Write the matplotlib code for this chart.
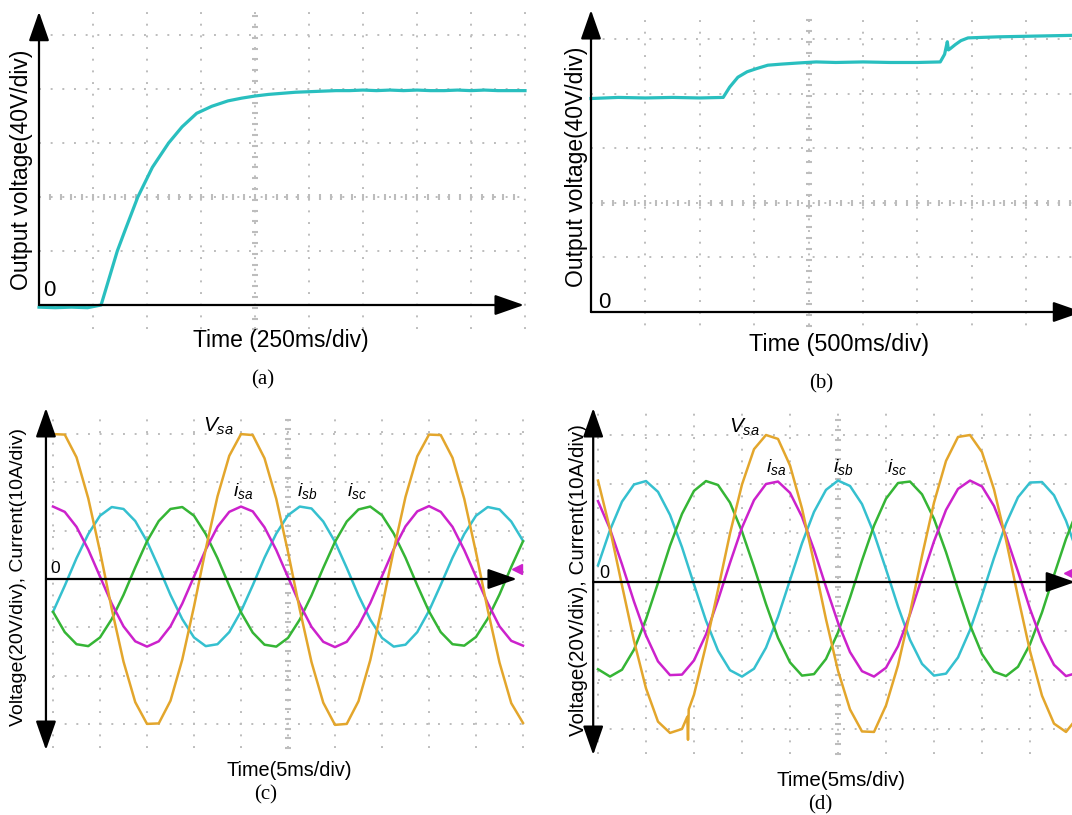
import numpy as np
import matplotlib
matplotlib.use("Agg")
import matplotlib.pyplot as plt

# ---- data (divisions read off the scope screens) ----
# (a) start-up of the output voltage, 250 ms/div, 40 V/div
t_a = [0.0, 0.3, 0.6, 0.9, 1.15, 1.3, 1.45, 1.6, 1.83, 2.1, 2.4, 2.65, 2.92, 3.2, 3.5,
       3.75, 4.0, 4.25, 4.5, 4.75, 5.0, 5.25, 5.5, 5.75, 6.0, 6.25, 6.5, 6.75, 7.0,
       7.25, 7.5, 7.75, 8.0, 8.25, 8.5, 8.75, 9.0]
v_a = [-0.04, -0.05, -0.04, -0.05, 0.0, 0.5, 1.0, 1.4, 2.0, 2.55, 3.0, 3.3, 3.55, 3.68, 3.78,
       3.83, 3.87, 3.9, 3.92, 3.94, 3.95, 3.96, 3.97, 3.97, 3.98, 3.97, 3.98, 3.97, 3.98,
       3.97, 3.97, 3.98, 3.97, 3.98, 3.97, 3.97, 3.97]

# (b) reference steps, 500 ms/div, 40 V/div
t_b = [0.0, 0.5, 1.0, 1.5, 2.0, 2.43, 2.55, 2.7, 2.87, 3.05, 3.25, 3.5, 3.8, 4.14, 4.5, 5.0,
       5.5, 6.0, 6.42, 6.5, 6.55, 6.57, 6.6, 6.7, 6.8, 6.93, 7.2, 7.5, 8.0, 8.5, 9.0]
v_b = [3.91, 3.93, 3.92, 3.93, 3.92, 3.93, 4.12, 4.3, 4.4, 4.46, 4.52, 4.54, 4.56, 4.58, 4.57, 4.58,
       4.57, 4.57, 4.58, 4.72, 4.95, 4.8, 4.82, 4.9, 4.97, 5.02, 5.03, 5.04, 5.05, 5.06, 5.07]

# (c) grid voltage and currents, 5 ms/div
t_c = [0.0, 0.25, 0.5, 0.75, 1.0, 1.25, 1.5, 1.75, 2.0, 2.25, 2.5, 2.75, 3.0, 3.25, 3.5, 3.75,
       4.0, 4.25, 4.5, 4.75, 5.0, 5.25, 5.5, 5.75, 6.0, 6.25, 6.5, 6.75, 7.0, 7.25, 7.5, 7.75,
       8.0, 8.25, 8.5, 8.75, 9.0, 9.25, 9.5, 9.75, 10.0]
vsa_c = [3.0, 2.99, 2.52, 1.67, 0.57, -0.62, -1.71, -2.55, -3.0, -2.99, -2.52, -1.67, -0.57, 0.62, 1.71, 2.55,
         3.0, 2.98, 2.5, 1.66, 0.56, -0.63, -1.72, -2.56, -3.02, -3.0, -2.53, -1.68, -0.58, 0.6, 1.7, 2.54,
         2.99, 2.98, 2.51, 1.66, 0.55, -0.64, -1.73, -2.57, -2.98]
isa_c = [1.5, 1.39, 1.08, 0.61, 0.05, -0.51, -0.98, -1.29, -1.4, -1.29, -0.98, -0.51, 0.05, 0.61, 1.08, 1.39,
         1.5, 1.4, 1.07, 0.6, 0.04, -0.52, -0.99, -1.3, -1.41, -1.3, -0.97, -0.5, 0.06, 0.62, 1.09, 1.4,
         1.51, 1.39, 1.08, 0.6, 0.05, -0.5, -0.98, -1.28, -1.38]
isb_c = [-0.68, -0.14, 0.43, 0.93, 1.31, 1.49, 1.45, 1.2, 0.78, 0.24, -0.33, -0.83, -1.21, -1.39, -1.35, -1.1,
         -0.67, -0.13, 0.44, 0.94, 1.32, 1.5, 1.46, 1.19, 0.77, 0.23, -0.34, -0.84, -1.22, -1.4, -1.36, -1.1,
         -0.66, -0.12, 0.44, 0.93, 1.31, 1.49, 1.44, 1.19, 0.79]
isc_c = [-0.68, -1.1, -1.35, -1.39, -1.21, -0.83, -0.33, 0.24, 0.78, 1.2, 1.45, 1.49, 1.31, 0.93, 0.43, -0.14,
         -0.69, -1.11, -1.36, -1.4, -1.22, -0.84, -0.34, 0.23, 0.77, 1.19, 1.44, 1.5, 1.32, 0.94, 0.44, -0.13,
         -0.67, -1.1, -1.35, -1.38, -1.2, -0.82, -0.32, 0.25, 0.78]
ref_c = (9.87, 0.21)   # channel reference marker of isa

# (d) grid voltage and currents after the step, 5 ms/div
t_d = t_c
t_vsa_d = [0.0, 0.25, 0.5, 0.75, 1.0, 1.25, 1.5, 1.75, 1.86, 1.875, 1.89,
           2.0, 2.25, 2.5, 2.75, 3.0, 3.25, 3.5, 3.75, 4.0, 4.25, 4.5, 4.75, 5.0, 5.25, 5.5, 5.75,
           6.0, 6.25, 6.5, 6.75, 7.0, 7.25, 7.5, 7.75, 8.0, 8.25, 8.5, 8.75, 9.0, 9.25, 9.5, 9.75, 10.0]
vsa_d = [2.07, 1.08, -0.07, -1.2, -2.17, -2.85, -3.08, -3.0, -2.75, -3.22, -2.6,
         -2.3, -1.29, -0.16, 0.99, 1.99, 2.71, 3.0, 2.92, 2.38, 1.5, 0.4, -0.76, -1.81, -2.6, -3.05, -3.06,
         -2.52, -1.7, -0.63, 0.53, 1.62, 2.47, 2.96, 3.0, 2.65, 1.89, 0.86, -0.3, -1.41, -2.32, -2.89, -3.06, -2.75]
isa_d = [1.65, 1.08, 0.36, -0.4, -1.09, -1.62, -1.9, -1.89, -1.6, -1.07, -0.37, 0.39, 1.11, 1.67, 2.0, 2.05,
         1.82, 1.33, 0.66, -0.1, -0.83, -1.43, -1.82, -1.93, -1.75, -1.31, -0.66, 0.09, 0.83, 1.47, 1.9, 2.07,
         1.95, 1.55, 0.94, 0.21, -0.55, -1.21, -1.69, -1.92, -1.85]
isb_d = [0.34, 1.06, 1.64, 1.99, 2.06, 1.84, 1.37, 0.71, -0.05, -0.79, -1.4, -1.8, -1.93, -1.77, -1.34, -0.71,
         0.04, 0.79, 1.43, 1.88, 2.07, 1.96, 1.59, 0.99, 0.26, -0.5, -1.18, -1.67, -1.91, -1.87, -1.54, -0.98,
         -0.27, 0.49, 1.19, 1.73, 2.03, 2.04, 1.77, 1.25, 0.56]
isc_d = [-1.78, -1.93, -1.79, -1.38, -0.76, -0.02, 0.74, 1.39, 1.86, 2.06, 1.98, 1.62, 1.03, 0.31, -0.45, -1.14,
         -1.64, -1.91, -1.88, -1.57, -1.03, -0.32, 0.44, 1.15, 1.7, 2.02, 2.05, 1.79, 1.29, 0.61, -0.15, -0.88,
         -1.47, -1.83, -1.92, -1.73, -1.27, -0.62, 0.14, 0.88, 1.5]
ref_d = (9.81, 0.18)

# ---- style ----
W, H = 1072, 815
TEAL = "#29bfbf"
ORANGE = "#e3a62c"
MAGENTA = "#cc22cc"
CYAN = "#35c0cf"
GREEN = "#35b535"
GRID = "#bdbdbd"

plt.rcParams["font.family"] = "Liberation Sans"
plt.rcParams["mathtext.fontset"] = "custom"
plt.rcParams["mathtext.it"] = "Liberation Sans:italic"
plt.rcParams["mathtext.rm"] = "Liberation Sans"

fig = plt.figure(figsize=(W / 100, H / 100), dpi=100)


def fx(x):
    return x / W


def fy(y):
    return 1 - y / H


def panel(left, right, top, bottom, ox, oy, sx, sy):
    # axes box in pixels, origin of the scope graticule and px per division
    ax = fig.add_axes([left / W, 1 - bottom / H, (right - left) / W, (bottom - top) / H])
    ax.set_xlim((left - ox) / sx, (right - ox) / sx)
    ax.set_ylim((oy - bottom) / sy, (oy - top) / sy)
    ax.axis("off")
    return ax


def graticule(ax, xs, ys, xr, yr, xc=None, yc=None):
    for x in xs:
        ax.plot([x, x], yr, color=GRID, lw=1.4, ls=(0, (1, 5)), zorder=0)
    for y in ys:
        ax.plot(xr, [y, y], color=GRID, lw=1.4, ls=(0, (1, 5)), zorder=0)
    if xc is not None:
        yy = np.arange(yr[0], yr[1], 0.2)
        ax.plot(np.full(len(yy), xc), yy, ls="none", marker="_", ms=5, mew=1.5, color=GRID, zorder=0)
    if yc is not None:
        xx = np.arange(xr[0], xr[1], 0.2)
        ax.plot(xx, np.full(len(xx), yc), ls="none", marker="|", ms=5, mew=1.5, color=GRID, zorder=0)


def arrow(ax, start, tip, style="-|>"):
    ax.annotate("", xy=tip, xytext=start, annotation_clip=False,
                arrowprops=dict(arrowstyle=style + ",head_length=1.0,head_width=0.35",
                                mutation_scale=18, lw=1.6, color="black",
                                shrinkA=0, shrinkB=0), zorder=5)


# ---- (a) ----
ax = panel(0, 536, 0, 335, 39, 305, 54, 54)
graticule(ax, range(1, 10), range(1, 6), (0, 9.0), (-0.45, 5.45), xc=4, yc=2)
ax.plot(t_a, v_a, color=TEAL, lw=2.3, zorder=2)
arrow(ax, (0, 0), (0, 5.43))
arrow(ax, (0, 0), (8.98, 0))
fig.text(fx(22), fy(170), "Output voltage(40V/div)", rotation=90, ha="center", va="center", fontsize=16.5)
fig.text(fx(281), fy(340), "Time (250ms/div)", ha="center", va="center", fontsize=16.5)
fig.text(fx(263), fy(380), "(a)", family="Liberation Serif", ha="center", va="center", fontsize=15)
fig.text(fx(43), fy(296), "0", ha="left", va="baseline", fontsize=16)

# ---- (b) ----
ax = panel(545, 1072, 0, 335, 591, 312, 54.4, 54.6)
graticule(ax, range(1, 10), range(1, 6), (0, 9.0), (-0.45, 5.45), xc=4, yc=2)
ax.plot(t_b, v_b, color=TEAL, lw=2.3, zorder=2)
arrow(ax, (0, 0), (0, 5.53))
arrow(ax, (0, 0), (9.03, 0))
fig.text(fx(576), fy(167), "Output voltage(40V/div)", rotation=90, ha="center", va="center", fontsize=16.5)
fig.text(fx(839), fy(344), "Time (500ms/div)", ha="center", va="center", fontsize=16.8)
fig.text(fx(821), fy(384), "(b)", family="Liberation Serif", ha="center", va="center", fontsize=15)
fig.text(fx(598), fy(308), "0", ha="left", va="baseline", fontsize=16)

# ---- (c) ----
ax = panel(0, 536, 400, 760, 53, 579, 47, 48.3)
graticule(ax, range(0, 11), [-3, -2, -1, 1, 2, 3], (0, 10), (-3.5, 3.5), xc=5)
ax.plot(t_c, isb_c, color=CYAN, lw=1.8, zorder=2)
ax.plot(t_c, isc_c, color=GREEN, lw=1.8, zorder=2)
ax.plot(t_c, isa_c, color=MAGENTA, lw=1.8, zorder=2)
ax.plot(t_c, vsa_c, color=ORANGE, lw=1.8, zorder=2)
ax.plot([ref_c[0]], [ref_c[1]], marker="<", ms=7, color=MAGENTA, ls="none", clip_on=False)
arrow(ax, (-0.15, -3.54), (-0.15, 3.54), style="<|-|>")
arrow(ax, (-0.15, 0), (9.87, 0))
fig.text(fx(19), fy(577), "Voltage(20V/div), Current(10A/div)", rotation=90, ha="center", va="center",
         fontsize=14)
fig.text(fx(289), fy(771), "Time(5ms/div)", ha="center", va="center", fontsize=14.3)
fig.text(fx(266), fy(795), "(c)", family="Liberation Serif", ha="center", va="center", fontsize=15)
fig.text(fx(50), fy(573), "0", ha="left", va="baseline", fontsize=12.5)
fig.text(fx(203), fy(432), r"$V_{sa}$", ha="left", va="baseline", fontsize=15)
fig.text(fx(233), fy(496), r"$i_{sa}$", ha="left", va="baseline", fontsize=14)
fig.text(fx(297), fy(496), r"$i_{sb}$", ha="left", va="baseline", fontsize=14)
fig.text(fx(347), fy(496), r"$i_{sc}$", ha="left", va="baseline", fontsize=14)

# ---- (d) ----
ax = panel(545, 1072, 400, 765, 598, 582, 48, 49)
graticule(ax, range(0, 11), [-3, -2, -1, 1, 2, 3], (0, 10), (-3.5, 3.5), xc=5)
ax.plot(t_d, isb_d, color=CYAN, lw=1.8, zorder=2)
ax.plot(t_d, isc_d, color=GREEN, lw=1.8, zorder=2)
ax.plot(t_d, isa_d, color=MAGENTA, lw=1.8, zorder=2)
ax.plot(t_vsa_d, vsa_d, color=ORANGE, lw=1.8, zorder=2)
ax.plot([ref_d[0]], [ref_d[1]], marker="<", ms=7, color=MAGENTA, ls="none", clip_on=False)
arrow(ax, (-0.1, -3.53), (-0.1, 3.55), style="<|-|>")
arrow(ax, (-0.1, 0), (9.94, 0))
fig.text(fx(578), fy(580), "Voltage(20V/div), Current(10A/div)", rotation=90, ha="center", va="center",
         fontsize=14.8)
fig.text(fx(841), fy(780), "Time(5ms/div)", ha="center", va="center", fontsize=14.8)
fig.text(fx(820), fy(805), "(d)", family="Liberation Serif", ha="center", va="center", fontsize=15)
fig.text(fx(599), fy(578), "0", ha="left", va="baseline", fontsize=13)
fig.text(fx(729), fy(433), r"$V_{sa}$", ha="left", va="baseline", fontsize=15)
fig.text(fx(766), fy(472), r"$i_{sa}$", ha="left", va="baseline", fontsize=14)
fig.text(fx(833), fy(472), r"$i_{sb}$", ha="left", va="baseline", fontsize=14)
fig.text(fx(887), fy(472), r"$i_{sc}$", ha="left", va="baseline", fontsize=14)

fig.savefig("out.png", dpi=100)
